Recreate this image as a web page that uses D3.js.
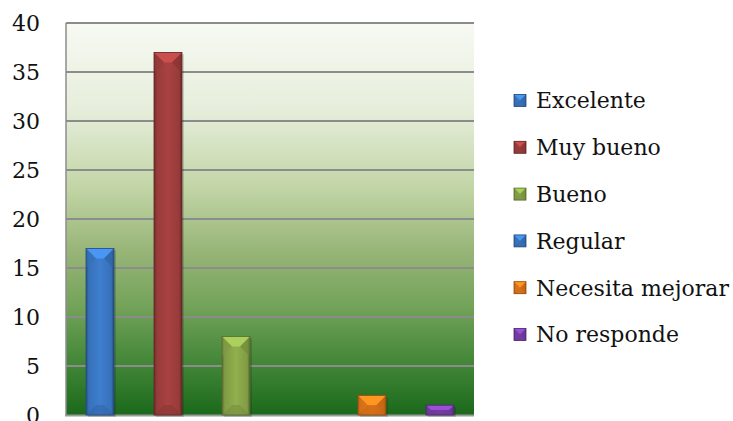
<!DOCTYPE html>
<html>
<head>
<meta charset="utf-8">
<script src="https://cdn.jsdelivr.net/npm/d3@7"></script>
<style>
  html, body { margin: 0; padding: 0; background: #fff; }
  svg { display: block; }
</style>
</head>
<body>
<svg id="chart" width="733" height="421"></svg>
<script>
// Survey answers per rating
const categories = ["Excelente", "Muy bueno", "Bueno", "Regular", "Necesita mejorar", "No responde"];
const values = [17, 37, 8, 0, 2, 1];
const colors = ["#3b79c6", "#a23f3e", "#8ba84a", "#3b79c6", "#e7791a", "#7c40ad"];
const yTicks = [0, 5, 10, 15, 20, 25, 30, 35, 40];

const svg = d3.select("#chart");
const W = 733, H = 421;
const m = { left: 66, right: 259, top: 23, bottom: 6 };
const pw = W - m.left - m.right, ph = H - m.top - m.bottom;

const x = d3.scaleBand().domain(categories).range([m.left, m.left + pw]).paddingInner(40 / 68).paddingOuter(20 / 68);
const y = d3.scaleLinear().domain([0, 40]).range([m.top + ph, m.top]);

const defs = svg.append("defs");

// plot background: pale at the top, deep green at the bottom
const bg = defs.append("linearGradient").attr("id", "bg").attr("x1", 0).attr("y1", 0).attr("x2", 0).attr("y2", 1);
[[0, "#f7f9f3"], [0.22, "#e6eedb"], [0.42, "#c2d5a6"], [0.58, "#98b578"], [0.72, "#74a35a"], [0.86, "#45883a"], [1, "#1b691b"]]
  .forEach(([o, c]) => bg.append("stop").attr("offset", o).attr("stop-color", c));

svg.append("rect").attr("x", m.left).attr("y", m.top).attr("width", pw).attr("height", ph).attr("fill", "url(#bg)");

// gridlines
svg.append("g").selectAll("line").data(yTicks.filter(d => d > 0)).join("line")
  .attr("x1", m.left).attr("x2", m.left + pw)
  .attr("y1", d => y(d)).attr("y2", d => y(d))
  .attr("stroke", "#8c8c8c").attr("stroke-width", 2);

// left border and base line
svg.append("line").attr("x1", m.left).attr("x2", m.left).attr("y1", m.top).attr("y2", y(0))
  .attr("stroke", "#8c8c8c").attr("stroke-width", 1.5);
svg.append("line").attr("x1", m.left - 1).attr("x2", m.left + pw).attr("y1", y(0) + 0.5).attr("y2", y(0) + 0.5)
  .attr("stroke", "#9a9a9a").attr("stroke-width", 2);

// y axis labels
const yAxis = d3.axisLeft(y).tickValues(yTicks).tickSize(0).tickPadding(26);
const ya = svg.append("g").attr("transform", `translate(${m.left},0)`).call(yAxis);
ya.select(".domain").remove();
ya.selectAll("text").attr("font-family", "DejaVu Serif").attr("font-size", 22).attr("fill", "#111");

// per-colour gradients for the bevelled bars
colors.forEach((c, i) => {
  const g = defs.append("linearGradient").attr("id", "bar" + i).attr("x1", 0).attr("x2", 1).attr("y1", 0).attr("y2", 0);
  const base = d3.color(c);
  g.append("stop").attr("offset", 0).attr("stop-color", base.darker(1.2));
  g.append("stop").attr("offset", 0.1).attr("stop-color", base.darker(0.2));
  g.append("stop").attr("offset", 0.5).attr("stop-color", base.brighter(0.12));
  g.append("stop").attr("offset", 0.9).attr("stop-color", base.darker(0.2));
  g.append("stop").attr("offset", 1).attr("stop-color", base.darker(1.4));
});

function bevelBar(sel, x0, y0, w, h, c, i) {
  const b = Math.min(10, h / 2, w / 2);
  const base = d3.color(c);
  sel.append("rect").attr("x", x0).attr("y", y0).attr("width", w).attr("height", h).attr("fill", `url(#bar${i})`);
  // top facet
  sel.append("polygon")
    .attr("points", [[x0, y0], [x0 + w, y0], [x0 + w - b, y0 + b], [x0 + b, y0 + b]].join(" "))
    .attr("fill", base.brighter(0.6));
  // short side facets beside the top facet
  sel.append("polygon")
    .attr("points", [[x0, y0], [x0 + b, y0 + b], [x0, y0 + 2 * b]].join(" "))
    .attr("fill", base.darker(0.25)).attr("opacity", 0.6);
  sel.append("polygon")
    .attr("points", [[x0 + w, y0], [x0 + w - b, y0 + b], [x0 + w, y0 + 2 * b]].join(" "))
    .attr("fill", base.darker(0.6)).attr("opacity", 0.6);
  // bottom facet
  sel.append("polygon")
    .attr("points", [[x0, y0 + h], [x0 + w, y0 + h], [x0 + w - b, y0 + h - b], [x0 + b, y0 + h - b]].join(" "))
    .attr("fill", base.darker(0.5)).attr("opacity", 0.55);
  sel.append("rect").attr("x", x0).attr("y", y0).attr("width", w).attr("height", h)
    .attr("fill", "none").attr("stroke", base.darker(1.3)).attr("stroke-width", 0.8);
}

const bars = svg.append("g");
categories.forEach((cat, i) => {
  const v = values[i];
  if (v <= 0) return;
  const g = bars.append("g");
  // soft shadow under each bar
  g.append("rect").attr("x", x(cat) + 2).attr("y", y(v) + 2).attr("width", x.bandwidth()).attr("height", y(0) - y(v))
    .attr("fill", "#000").attr("opacity", 0.15);
  bevelBar(g, x(cat), y(v), x.bandwidth(), y(0) - y(v), colors[i], i);
});

// legend
const lg = svg.append("g");
categories.forEach((cat, i) => {
  const cy = 100.5 + i * 46.8;
  const g = lg.append("g");
  bevelBar(g, 514, cy - 6, 12, 12, colors[i], i);
  g.append("text").attr("x", 536).attr("y", cy).attr("dy", "0.36em")
    .attr("font-family", "DejaVu Serif").attr("font-size", 22).attr("fill", "#111").text(cat);
});
</script>
</body>
</html>
